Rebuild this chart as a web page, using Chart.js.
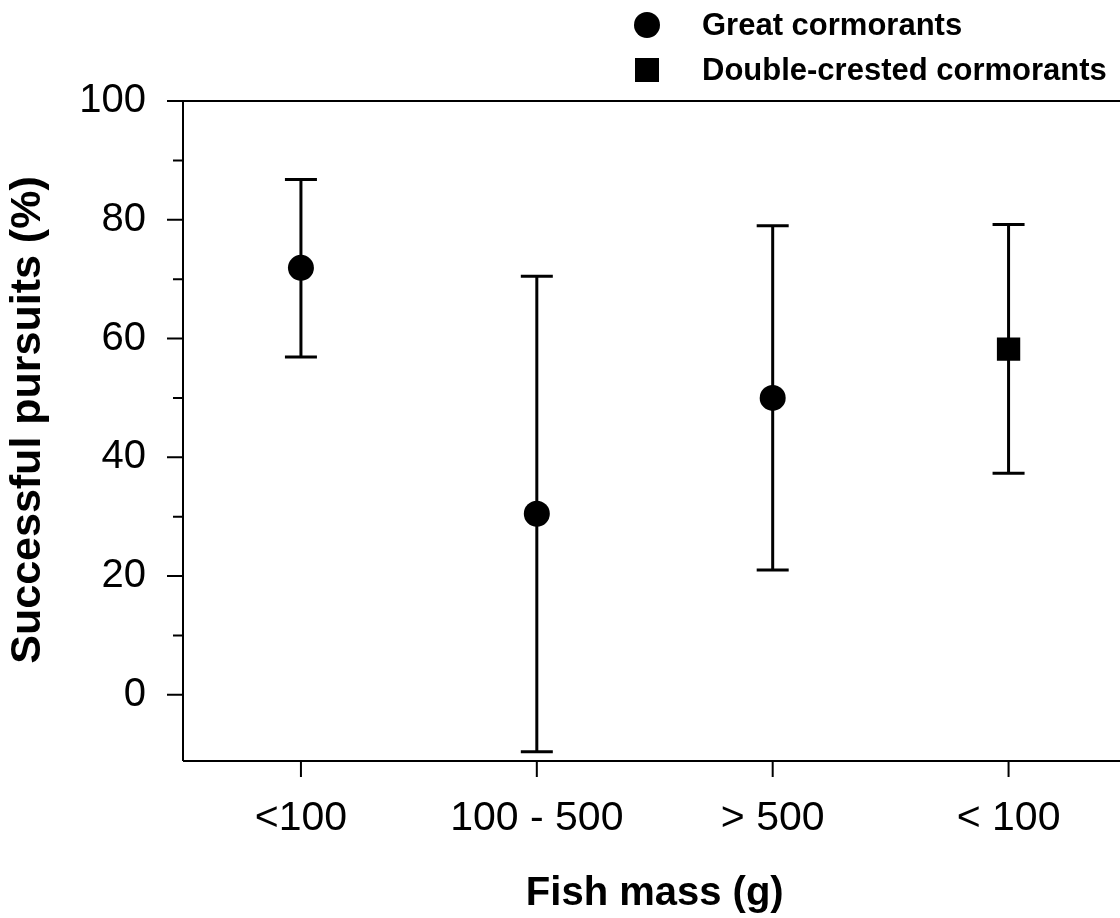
<!DOCTYPE html>
<html>
<head>
<meta charset="utf-8">
<script src="https://cdn.jsdelivr.net/npm/chart.js@4/dist/chart.umd.min.js"></script>
<style>
    html, body { margin: 0; padding: 0; background: #fff; overflow: hidden; }
    #wrap { width: 1143px; height: 918px; }
</style>
</head>
<body>
<div id="wrap"><canvas id="pursuitChart" width="1143" height="918"></canvas></div>
<script>
const categories = ['<100', '100 - 500', '> 500', '< 100'];

// Great cormorants: mean and error bar ends
const greatMean = [71.9, 30.5, 50.0, null];
const greatLow = [56.9, -9.6, 21.0, null];
const greatHigh = [86.8, 70.5, 79.0, null];

// Double-crested cormorants
const doubleMean = [null, null, null, 58.2];
const doubleLow = [null, null, null, 37.3];
const doubleHigh = [null, null, null, 79.2];

const yMajorTicks = [0, 20, 40, 60, 80, 100];
const yMinorTicks = [10, 30, 50, 70, 90];

const yTitle = 'Successful pursuits (%)';
const fontFamily = "'Liberation Sans', Arial, sans-serif";

// Error bars with caps, drawn under the markers
const errorBarPlugin = {
    id: 'errorBars',
    beforeDatasetsDraw(chart) {
        const ctx = chart.ctx;
        const x = chart.scales.x;
        const y = chart.scales.y;
        ctx.save();
        ctx.strokeStyle = '#000';
        ctx.lineWidth = 3;
        chart.data.datasets.forEach(ds => {
            ds.data.forEach((v, i) => {
                if (v === null) return;
                const px = x.getPixelForValue(i);
                const top = y.getPixelForValue(ds.errHigh[i]);
                const bot = y.getPixelForValue(ds.errLow[i]);
                ctx.beginPath();
                ctx.moveTo(px, top);
                ctx.lineTo(px, bot);
                ctx.moveTo(px - 16, top);
                ctx.lineTo(px + 16, top);
                ctx.moveTo(px - 16, bot);
                ctx.lineTo(px + 16, bot);
                ctx.stroke();
            });
        });
        ctx.restore();
    }
};

// Axis frame, tick marks and the vertical axis title
const axesPlugin = {
    id: 'axesFrame',
    afterDraw(chart) {
        const ctx = chart.ctx;
        const area = chart.chartArea;
        const x = chart.scales.x;
        const y = chart.scales.y;
        ctx.save();
        ctx.strokeStyle = '#000';
        ctx.lineWidth = 2;
        ctx.beginPath();
        const yTop = y.getPixelForValue(100);
        ctx.moveTo(area.left, yTop);
        ctx.lineTo(area.left, area.bottom);
        ctx.moveTo(area.left, area.bottom);
        ctx.lineTo(area.right, area.bottom);
        ctx.moveTo(area.left, yTop);
        ctx.lineTo(area.right, yTop);
        yMajorTicks.forEach(v => {
            const py = y.getPixelForValue(v);
            ctx.moveTo(area.left - 16, py);
            ctx.lineTo(area.left, py);
        });
        yMinorTicks.forEach(v => {
            const py = y.getPixelForValue(v);
            ctx.moveTo(area.left - 10, py);
            ctx.lineTo(area.left, py);
        });
        categories.forEach((c, i) => {
            const px = x.getPixelForValue(i);
            ctx.moveTo(px, area.bottom);
            ctx.lineTo(px, area.bottom + 16);
        });
        ctx.stroke();

        // y title sits a little above the plot's middle
        ctx.translate(28, 420);
        ctx.rotate(-Math.PI / 2);
        ctx.fillStyle = '#000';
        ctx.font = 'bold 43px ' + fontFamily;
        ctx.textAlign = 'center';
        ctx.textBaseline = 'middle';
        ctx.fillText(yTitle, 0, 0);
        ctx.restore();
    }
};

// Legend in the top right corner
const legendPlugin = {
    id: 'cornerLegend',
    afterDraw(chart) {
        const ctx = chart.ctx;
        ctx.save();
        ctx.fillStyle = '#000';
        ctx.font = 'bold 31px ' + fontFamily;
        ctx.textBaseline = 'middle';
        const rows = [25, 70];
        chart.data.datasets.forEach((ds, i) => {
            const cy = rows[i];
            if (ds.pointStyle === 'circle') {
                ctx.beginPath();
                ctx.arc(647, cy, 13, 0, Math.PI * 2);
                ctx.fill();
            } else {
                ctx.fillRect(635, cy - 12, 24, 24);
            }
            ctx.fillText(ds.label, 702, cy + 1);
        });
        ctx.restore();
    }
};

new Chart(document.getElementById('pursuitChart'), {
    type: 'line',
    data: {
        labels: categories,
        datasets: [{
            label: 'Great cormorants',
            data: greatMean,
            errLow: greatLow,
            errHigh: greatHigh,
            showLine: false,
            pointStyle: 'circle',
            pointRadius: 13,
            pointBorderWidth: 0,
            pointBackgroundColor: '#000',
            borderColor: '#000'
        }, {
            label: 'Double-crested cormorants',
            data: doubleMean,
            errLow: doubleLow,
            errHigh: doubleHigh,
            showLine: false,
            pointStyle: 'rect',
            pointRadius: 16.5,
            pointBorderWidth: 0,
            pointBackgroundColor: '#000',
            borderColor: '#000'
        }]
    },
    options: {
        responsive: false,
        animation: false,
        layout: { padding: { top: 101, right: 4, left: 0, bottom: 0 } },
        plugins: {
            legend: { display: false },
            tooltip: { enabled: false }
        },
        scales: {
            x: {
                type: 'category',
                offset: true,
                grid: { display: false, drawTicks: false },
                border: { display: false },
                ticks: {
                    color: '#000',
                    padding: 33,
                    font: { family: fontFamily, size: 41 },
                    maxRotation: 0,
                    autoSkip: false
                },
                title: {
                    display: true,
                    text: 'Fish mass (g)',
                    color: '#000',
                    font: { family: fontFamily, size: 40, weight: 'bold' },
                    padding: { bottom: 0 }
                },
                afterFit: scale => { scale.height = 157; }
            },
            y: {
                min: -11.15,
                max: 100,
                grid: { display: false, drawTicks: false },
                border: { display: false },
                afterBuildTicks: scale => {
                    scale.ticks = yMajorTicks.map(v => ({ value: v }));
                },
                ticks: {
                    color: '#000',
                    padding: 37,
                    font: { family: fontFamily, size: 40 },
                    autoSkip: false
                },
                title: { display: false },
                afterFit: scale => { scale.width = 183; }
            }
        }
    },
    plugins: [errorBarPlugin, axesPlugin, legendPlugin]
});
</script>
</body>
</html>
